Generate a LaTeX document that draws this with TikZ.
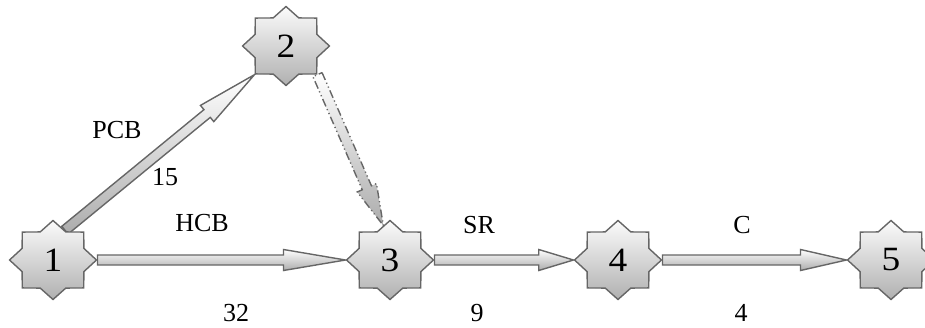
\documentclass[tikz,border=0pt]{standalone}
\usepackage{fontspec}
\setmainfont{Liberation Serif}
\usetikzlibrary{shapes.geometric,calc,backgrounds}
\definecolor{EdgeGray}{HTML}{666666}

% fat arrow from #2 to #3, head is a quarter of the length
\newcommand{\flowarrow}[3][]{%
  \coordinate (hd) at ($(#3)!0.25!(#2)$);
  \draw[flow,#1] ($(#2)!5pt!90:(#3)$) -- ($(hd)!5pt!90:(#3)$) -- ($(hd)!10.5pt!90:(#3)$) -- (#3)
    -- ($(hd)!10.5pt!-90:(#3)$) -- ($(hd)!5pt!-90:(#3)$) -- ($(#2)!5pt!-90:(#3)$) -- cycle;
}

\begin{document}
\begin{tikzpicture}[x=1pt, y=-1pt,
    stop/.style={star, star points=8, star point ratio=1.3, draw=EdgeGray, line width=1.4pt, top color=gray!3, bottom color=gray!62, minimum size=79pt, inner sep=0pt, xscale=1.1, transform shape, font=\fontsize{34}{36}\selectfont},
    flow/.style={draw=EdgeGray, line width=1.4pt, line join=miter, top color=white, bottom color=gray!65},
    lbl/.style={font=\fontsize{26}{30}\selectfont}
  ]
    \useasboundingbox (0,0) rectangle (925,327);

    \node[stop] (n1) at (53,260) {1};
    \node[stop] (n2) at (286,46) {2};
    \node[stop] (n3) at (390,260) {3};
    \node[stop] (n4) at (618,260) {4};
    \node[stop] (n5) at (891,260) {5};

    \begin{scope}[on background layer]
      \flowarrow{n1.70}{n2.225}
      \flowarrow[dash pattern=on 8pt off 3pt on 1.2pt off 3pt on 1.2pt off 3pt]{n2.315}{n3.100}
      \flowarrow{n1.0}{n3.180}
      \flowarrow{n3.0}{n4.180}
      \flowarrow{n4.0}{n5.180}
    \end{scope}

    \node[lbl] (pcb) at (117,130) {PCB};
    \node[lbl] (w12) at (165,177) {15};
    \node[lbl] (hcb) at (202,223) {HCB};
    \node[lbl] (w13) at (236,313) {32};
    \node[lbl] (sr) at (479,225) {SR};
    \node[lbl] (w34) at (477,313) {9};
    \node[lbl] (c) at (742,225) {C};
    \node[lbl] (w45) at (741,313) {4};
  \end{tikzpicture}
\end{document}
